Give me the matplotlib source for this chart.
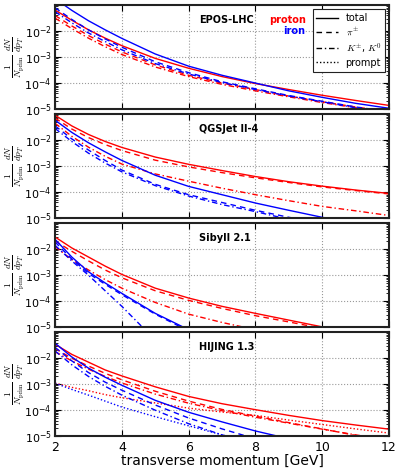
import numpy as np
import matplotlib.pyplot as plt
from matplotlib.ticker import LogLocator, NullFormatter, FixedLocator

plt.rcParams['mathtext.fontset'] = 'dejavusans'

# transverse momentum grid [GeV]
pt = [2, 2.5, 3, 3.5, 4, 5, 6, 7, 8, 9, 10, 11, 12]

# log10 of (1/N_prim dN/dpT)
# EPOS-LHC
epos_p_total = [-1.19, -1.58, -1.95, -2.27, -2.56, -3.05, -3.43, -3.75, -4.02, -4.25, -4.47, -4.67, -4.86]
epos_p_pi = [-1.40, -1.80, -2.17, -2.50, -2.80, -3.30, -3.70, -4.00, -4.25, -4.50, -4.72, -4.92, -5.10]
epos_p_k = [-1.50, -1.90, -2.27, -2.60, -2.90, -3.38, -3.75, -4.05, -4.30, -4.53, -4.75, -4.95, -5.15]
epos_fe_total = [-0.75, -1.20, -1.60, -1.95, -2.28, -2.88, -3.35, -3.70, -4.00, -4.30, -4.55, -4.78, -4.97]
epos_fe_pi = [-1.10, -1.55, -1.95, -2.30, -2.62, -3.18, -3.60, -3.95, -4.22, -4.48, -4.70, -4.92, -5.10]
epos_fe_k = [-1.25, -1.68, -2.07, -2.40, -2.72, -3.25, -3.65, -3.98, -4.25, -4.50, -4.72, -4.95, -5.15]

# QGSJet II-4
qgs_p_total = [-1.04, -1.45, -1.78, -2.05, -2.28, -2.65, -2.93, -3.17, -3.40, -3.60, -3.77, -3.92, -4.05]
qgs_p_pi = [-1.15, -1.57, -1.90, -2.17, -2.40, -2.77, -3.03, -3.25, -3.45, -3.63, -3.80, -3.94, -4.07]
qgs_p_k = [-1.35, -1.85, -2.27, -2.62, -2.92, -3.30, -3.58, -3.85, -4.10, -4.33, -4.55, -4.72, -4.90]
qgs_fe_total = [-1.23, -1.70, -2.10, -2.45, -2.78, -3.35, -3.78, -4.10, -4.42, -4.70, -4.97, -5.20, -5.40]
qgs_fe_pi = [-1.45, -1.95, -2.38, -2.78, -3.15, -3.70, -4.10, -4.40, -4.70, -4.97, -5.20]
qgs_fe_k = [-1.55, -2.05, -2.50, -2.88, -3.22, -3.75, -4.15, -4.48, -4.75, -5.05]

# Sibyll 2.1
sib_p_total = [-1.53, -1.95, -2.30, -2.65, -2.97, -3.50, -3.88, -4.20, -4.47, -4.73, -4.99, -5.20]
sib_p_pi = [-1.68, -2.08, -2.45, -2.80, -3.10, -3.60, -3.97, -4.28, -4.56, -4.80, -5.05]
sib_p_k = [-1.90, -2.40, -2.80, -3.17, -3.50, -4.05, -4.50, -4.82, -5.10]
sib_fe_total = [-1.62, -2.30, -2.87, -3.30, -3.70, -4.47, -5.10]
sib_fe_pi = [-1.72, -2.38, -2.93, -3.35, -3.75, -4.50, -5.15]
sib_fe_k = [-1.85, -2.45, -3.00, -3.60, -4.20, -5.50]

# HIJING 1.3
hij_p_total = [-1.46, -1.85, -2.15, -2.45, -2.68, -3.10, -3.47, -3.75, -3.98, -4.20, -4.40, -4.57, -4.73]
hij_p_pi = [-1.62, -2.00, -2.30, -2.58, -2.83, -3.27, -3.65, -3.97, -4.23, -4.48, -4.72, -4.97, -5.20]
hij_p_k = [-1.75, -2.10, -2.42, -2.70, -2.95, -3.38, -3.73, -4.02, -4.27, -4.50, -4.73, -4.95, -5.15]
hij_p_prompt = [-2.96, -3.12, -3.25, -3.40, -3.52, -3.72, -3.92, -4.07, -4.20, -4.38, -4.55, -4.72, -4.88]
hij_fe_total = [-1.42, -1.95, -2.38, -2.73, -3.04, -3.62, -4.08, -4.45, -4.80, -5.10]
hij_fe_pi = [-1.58, -2.10, -2.55, -2.92, -3.23, -3.80, -4.30, -4.72, -5.10]
hij_fe_k = [-1.72, -2.25, -2.70, -3.08, -3.42, -4.00, -4.52, -4.95, -5.30]
hij_fe_prompt = [-2.96, -3.20, -3.42, -3.65, -3.88, -4.25, -4.60, -4.95, -5.30]

models = ['EPOS-LHC', 'QGSJet II-4', 'Sibyll 2.1', 'HIJING 1.3']
curves = [
    [(epos_p_total, epos_p_pi, epos_p_k, None), (epos_fe_total, epos_fe_pi, epos_fe_k, None)],
    [(qgs_p_total, qgs_p_pi, qgs_p_k, None), (qgs_fe_total, qgs_fe_pi, qgs_fe_k, None)],
    [(sib_p_total, sib_p_pi, sib_p_k, None), (sib_fe_total, sib_fe_pi, sib_fe_k, None)],
    [(hij_p_total, hij_p_pi, hij_p_k, hij_p_prompt), (hij_fe_total, hij_fe_pi, hij_fe_k, hij_fe_prompt)],
]
styles = ['-', (0, (4, 3)), (0, (4, 2, 1, 2)), (0, (1, 1.5))]
labels = ['total', r'$\pi^{\pm}$', r'$K^{\pm}$, $K^0$', 'prompt']

fig = plt.figure(figsize=(3.99, 4.68), dpi=100)
left, width = 0.138, 0.837
bottoms = [0.767, 0.534, 0.301, 0.068]
height = 0.222

for i, name in enumerate(models):
    ax = fig.add_axes([left, bottoms[i], width, height])
    for color, comps in zip(['red', 'blue'], curves[i]):
        for vals, ls in zip(comps, styles):
            if vals is None:
                continue
            ax.plot(pt[:len(vals)], 10 ** np.array(vals), color=color, ls=ls, lw=1)
    ax.set_yscale('log')
    ax.set_xlim(2, 12)
    ax.set_ylim(1e-5, 1e-1)
    ax.yaxis.set_major_locator(FixedLocator([1e-5, 1e-4, 1e-3, 1e-2]))
    ax.yaxis.set_minor_locator(LogLocator(base=10, subs=np.arange(2, 10), numticks=20))
    ax.yaxis.set_minor_formatter(NullFormatter())
    ax.set_xticks([2, 4, 6, 8, 10, 12])
    ax.tick_params(which='both', direction='in', top=True, right=True, labelsize=9)
    ax.tick_params(axis='y', labelsize=8, pad=2.5)
    ax.tick_params(which='major', length=4)
    ax.tick_params(which='minor', length=2)
    ax.grid(True, which='major', color='#999999', ls=':', lw=0.8)
    for sp in ax.spines.values():
        sp.set_linewidth(1.5)
        sp.set_color('#222222')
    if i < 3:
        ax.tick_params(labelbottom=False)
    else:
        ax.set_xlabel('transverse momentum [GeV]', fontsize=10, labelpad=0)
    yl = ax.set_ylabel(r'$\frac{1}{N_\mathrm{prim}}\;\frac{dN}{dp_T}$', fontsize=9.5)
    yl.set_math_fontfamily('cm')
    ax.yaxis.set_label_coords(-0.088, 0.5)
    ax.text(0.43, 0.86, name, transform=ax.transAxes, fontsize=7,
            fontweight='bold', va='center', ha='left')
    if i == 0:
        ax.text(0.75, 0.86, 'proton', color='red', transform=ax.transAxes,
                fontsize=7, fontweight='bold', ha='right', va='center')
        ax.text(0.75, 0.75, 'iron', color='blue', transform=ax.transAxes,
                fontsize=7, fontweight='bold', ha='right', va='center')
        handles = [plt.Line2D([], [], color='k', ls=ls, lw=1) for ls in styles]
        leg = ax.legend(handles, labels, loc='upper right', fontsize=7,
                        handlelength=2.2, labelspacing=0.3, borderpad=0.4,
                        fancybox=False, framealpha=1, borderaxespad=0.4)
        for t in leg.get_texts():
            t.set_math_fontfamily('cm')
        leg.get_frame().set_edgecolor('#222222')
        leg.get_frame().set_linewidth(0.8)

fig.savefig('out.png', dpi=100)
